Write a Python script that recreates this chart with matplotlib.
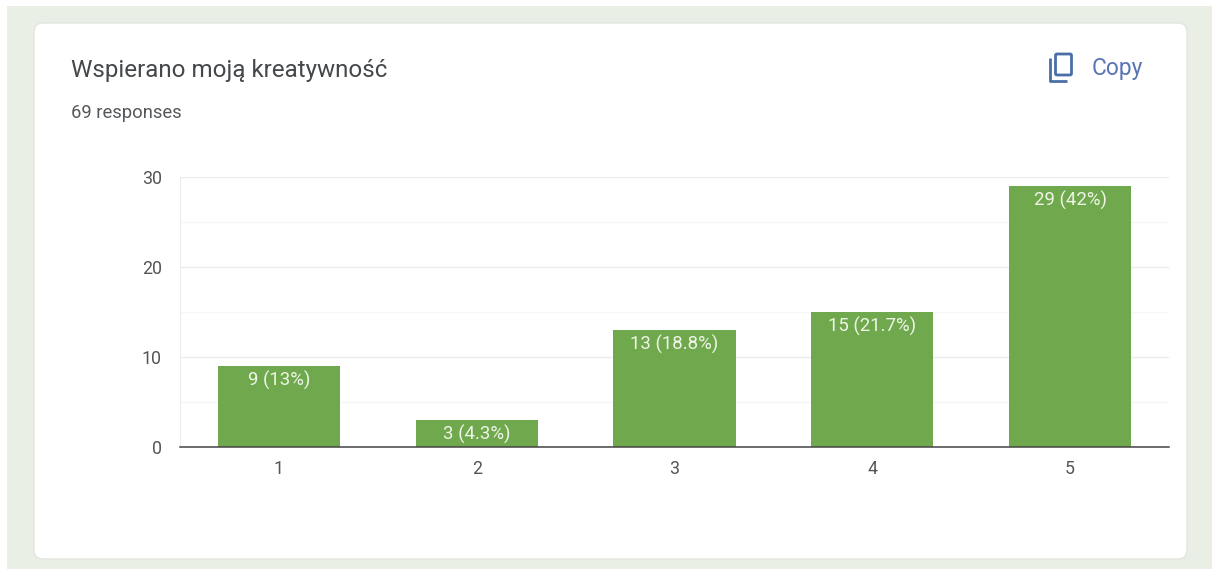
import matplotlib
matplotlib.use('Agg')
import matplotlib.pyplot as plt
from matplotlib.patches import FancyBboxPatch, Rectangle

plt.rcParams['font.family'] = ['Roboto', 'DejaVu Sans']

W, H = 1212, 569

categories = ['1', '2', '3', '4', '5']
counts = [9, 3, 13, 15, 29]
percents = ['13%', '4.3%', '18.8%', '21.7%', '42%']
major_ticks = [0, 10, 20, 30]
minor_ticks = [5, 15, 25]

title = 'Wspierano moją kreatywność'
subtitle = '69 responses'

fig = plt.figure(figsize=(W / 100, H / 100), dpi=100, facecolor='white')

# background layer in pixel coords, y going down
bg = fig.add_axes([0, 0, 1, 1])
bg.set_xlim(0, W)
bg.set_ylim(H, 0)
bg.axis('off')
bg.add_patch(Rectangle((7, 6), W - 7, H - 6, fc='#e9efe5', ec='none'))
bg.add_patch(FancyBboxPatch((34, 23), 1153, 536, boxstyle='round,pad=0,rounding_size=9',
                            fc='white', ec='#e2e6df', lw=1))
bg.text(71, 70, title, fontsize=17.4, color='#45484b', va='center', ha='left')
bg.text(71, 113, subtitle, fontsize=13.2, color='#55585b', va='center', ha='left')

# copy icon
blue = '#4a6fa8'
bg.add_patch(FancyBboxPatch((1055.5, 54), 16, 21, boxstyle='round,pad=0,rounding_size=1.5',
                            fc='none', ec=blue, lw=2))
bg.plot([1049.5, 1049.5, 1067], [58, 81, 81], color=blue, lw=2, solid_capstyle='butt',
        solid_joinstyle='round')
bg.text(1092, 68, 'Copy', fontsize=16.4, color='#5b74b5', va='center', ha='left')

# chart
ax = fig.add_axes([180 / W, 1 - 447 / H, 989 / W, 270 / H])
ax.patch.set_alpha(0)
x = range(1, len(counts) + 1)
bars = ax.bar(x, counts, width=0.617, color='#70a94d', zorder=3)
ax.set_xlim(0.5, 5.5)
ax.set_ylim(0, 30)

ax.set_xticks(list(x), categories)
ax.set_yticks(major_ticks)
ax.set_yticks(minor_ticks, minor=True)
ax.grid(axis='y', which='major', color='#ebebeb', lw=1, zorder=0)
ax.grid(axis='y', which='minor', color='#f6f6f6', lw=1, zorder=0)
ax.tick_params(axis='both', which='both', length=0)
ax.tick_params(axis='x', pad=9, labelsize=12.8, labelcolor='#555555')
ax.tick_params(axis='y', pad=13, labelsize=12.8, labelcolor='#555555')
for side in ['top', 'right']:
    ax.spines[side].set_visible(False)
ax.spines['left'].set_color('#ededed')
ax.spines['bottom'].set_color('#444444')
ax.spines['bottom'].set_linewidth(1.1)
ax.spines['bottom'].set_zorder(4)

for bar, n, pct in zip(bars, counts, percents):
    ax.annotate(f'{n} ({pct})', (bar.get_x() + bar.get_width() / 2, n), xytext=(0, -3.5),
                textcoords='offset points', ha='center', va='top', fontsize=13.4,
                color='#eef4e6', zorder=5)

fig.savefig('out.png', dpi=100)
